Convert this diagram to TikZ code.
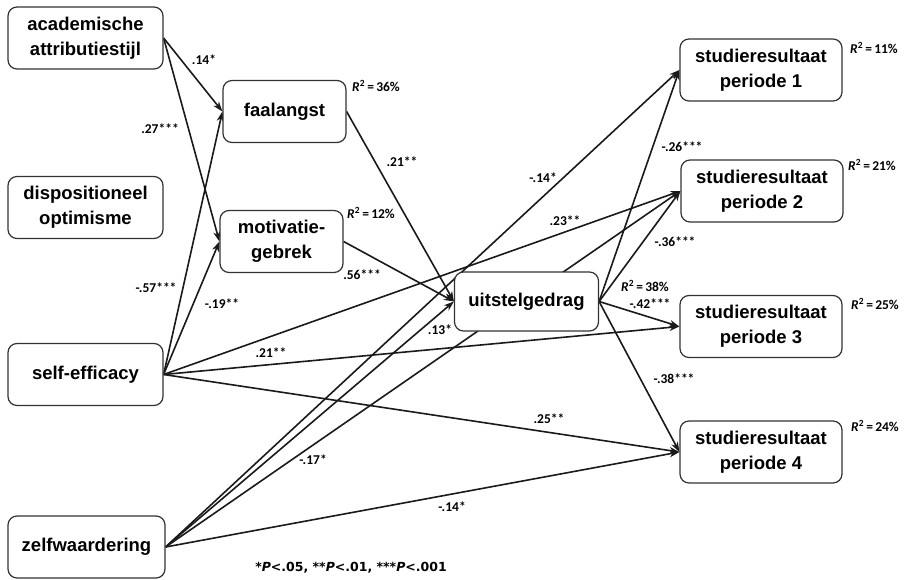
\documentclass[tikz,border=0pt]{standalone}
\usepackage{fontspec}
\setmainfont{Liberation Sans}
\newfontfamily\calfont{Carlito}
\newfontfamily\notefont{DejaVu Sans}
\usetikzlibrary{arrows.meta,backgrounds}
\definecolor{boxline}{HTML}{333333}
\definecolor{pathline}{HTML}{1A1A1A}
\newcommand{\Rsq}[1]{{\itshape R}\textsuperscript{2}\,=\,#1}
\tikzset{
  var/.style={draw=boxline, line width=1.2pt, rounded corners=9pt, fill=white,
    align=center, inner sep=0pt, minimum width=#1, minimum height=62pt,
    font=\fontsize{18.5}{25}\selectfont\bfseries},
  var/.default=155pt,
  eff/.style={draw=pathline, line width=1.6pt, -{Stealth[length=10pt,width=7pt,inset=3pt]}},
  coef/.style={font=\calfont\bfseries\fontsize{13.5}{15}\selectfont, inner sep=0pt},
}

\begin{document}
\begin{tikzpicture}[x=1pt, y=-1pt]
\useasboundingbox (0,0) rectangle (910,580);

% ---- predictors ----
\node[var] (acad) at (85.5,38) {academische\\attributiestijl};
\node[var] (disp) at (85.5,207.5) {dispositioneel\\optimisme};
\node[var] (self) at (85.5,374.5) {self-efficacy};
\node[var=157pt] (zelf) at (86.5,547) {zelfwaardering};

% ---- mediators ----
\node[var=123pt] (faal) at (284.5,111.5) {faalangst};
\node[var=123pt] (moti) at (281.5,241.5) {motivatie-\\gebrek};
\node[var=144pt, minimum height=59pt] (uits) at (526.5,301.5) {uitstelgedrag};

% ---- outcomes ----
\node[var=162pt] (per1) at (761,70) {studieresultaat\\periode 1};
\node[var=162pt] (per2) at (762,191) {studieresultaat\\periode 2};
\node[var=162pt] (per3) at (761,326.5) {studieresultaat\\periode 3};
\node[var=162pt] (per4) at (761,452) {studieresultaat\\periode 4};

% ---- paths ----
\begin{pgfonlayer}{background}
\draw[eff] (acad.east) -- (faal.west);
\draw[eff] (acad.east) -- (moti.west);
\draw[eff] (self.east) -- (faal.west);
\draw[eff] (self.east) -- (moti.west);
\draw[eff] (faal.east) -- (uits.west);
\draw[eff] (moti.east) -- (uits.west);
\draw[eff] (self.east) -- (per2.west);
\draw[eff] (self.east) -- (per3.west);
\draw[eff] (self.east) -- (per4.west);
\draw[eff] (zelf.east) -- (uits.west);
\draw[eff] (zelf.east) -- (per1.west);
\draw[eff] (zelf.east) -- (per2.west);
\draw[eff] (zelf.east) -- (per4.west);
\draw[eff] (uits.east) -- (per1.west);
\draw[eff] (uits.east) -- (per2.west);
\draw[eff] (uits.east) -- (per3.west);
\draw[eff] (uits.east) -- (per4.west);
\end{pgfonlayer}

% ---- coefficients ----
\node[coef] (c-af) at (204,60) {.14*};
\node[coef] (c-am) at (160,129) {.27***};
\node[coef] (c-sf) at (156,288) {-.57***};
\node[coef] (c-sm) at (222,304) {-.19**};
\node[coef] (c-fu) at (402,162) {.21**};
\node[coef] (c-mu) at (362,275) {.56***};
\node[coef] (c-zu) at (440,330) {.13*};
\node[coef] (c-s2) at (565,221) {.23**};
\node[coef] (c-s3) at (271,353) {.21**};
\node[coef] (c-s4) at (549,419) {.25**};
\node[coef] (c-z1) at (543,178) {-.14*};
\node[coef] (c-z2) at (313,460) {-.17*};
\node[coef] (c-z4) at (452,507) {-.14*};
\node[coef] (c-u1) at (682,147) {-.26***};
\node[coef] (c-u2) at (675,242) {-.36***};
\node[coef] (c-u3) at (650,304) {-.42***};
\node[coef] (c-u4) at (674,379) {-.38***};

% ---- explained variance ----
\node[coef] (r-faal) at (376,86) {\Rsq{36\%}};
\node[coef] (r-moti) at (371,213) {\Rsq{12\%}};
\node[coef] (r-uits) at (645,286) {\Rsq{38\%}};
\node[coef] (r-per1) at (874,48) {\Rsq{11\%}};
\node[coef] (r-per2) at (872,165) {\Rsq{21\%}};
\node[coef] (r-per3) at (875,304) {\Rsq{25\%}};
\node[coef] (r-per4) at (875,426) {\Rsq{24\%}};

\node[font=\notefont\bfseries\fontsize{12.5}{14}\selectfont, inner sep=0pt] (note) at (351,568)
  {*\textit{P}<.05, **\textit{P}<.01, ***\textit{P}<.001};

\end{tikzpicture}
\end{document}
